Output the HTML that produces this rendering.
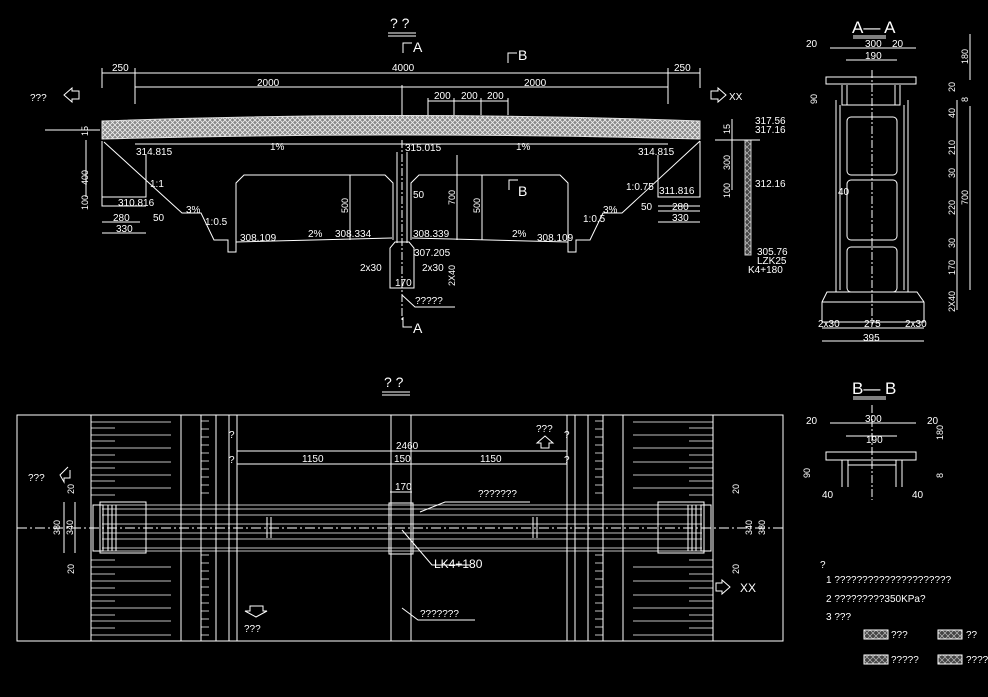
<!DOCTYPE html>
<html><head><meta charset="utf-8"><style>
html,body{margin:0;padding:0;background:#000;}
svg{display:block;}
text{font-family:"Liberation Sans",sans-serif;fill:#fff;}
</style></head><body>
<svg width="988" height="697" viewBox="0 0 988 697" xmlns="http://www.w3.org/2000/svg" font-size="10">
<defs>
<pattern id="h" width="5" height="5" patternUnits="userSpaceOnUse">
<rect width="5" height="5" fill="#888"/><path d="M0 0L5 5M5 0L0 5" stroke="#eee" stroke-width="0.8"/>
</pattern>
<pattern id="h2" width="6" height="6" patternUnits="userSpaceOnUse">
<rect width="6" height="6" fill="#444"/><path d="M0 0L6 6M6 0L0 6" stroke="#bbb" stroke-width="0.7"/>
</pattern>
</defs>
<g stroke="#fff" stroke-width="1" fill="none">
<text x="390" y="28" font-size="14" stroke="none">? ?</text>
<line x1="388" y1="33" x2="416" y2="33"/><line x1="388" y1="36" x2="416" y2="36"/>
<path d="M403 53V43H412"/><text x="413" y="52" font-size="14" stroke="none">A</text>
<path d="M508 63V53H517"/><text x="518" y="60" font-size="14" stroke="none">B</text>
<line x1="102" y1="73" x2="700" y2="73"/><line x1="135" y1="87" x2="668" y2="87"/>
<line x1="102" y1="68" x2="102" y2="88"/><line x1="135" y1="68" x2="135" y2="104"/>
<line x1="668" y1="68" x2="668" y2="104"/><line x1="700" y1="68" x2="700" y2="88"/>
<line x1="402" y1="85" x2="402" y2="115"/>
<text x="112" y="71" stroke="none">250</text><text x="392" y="71" stroke="none">4000</text><text x="674" y="71" stroke="none">250</text>
<text x="257" y="86" stroke="none">2000</text><text x="524" y="86" stroke="none">2000</text>
<line x1="428" y1="101" x2="508" y2="101"/>
<line x1="428" y1="98" x2="428" y2="115"/><line x1="454" y1="98" x2="454" y2="115"/><line x1="481" y1="98" x2="481" y2="115"/><line x1="508" y1="98" x2="508" y2="115"/>
<text x="434" y="99" stroke="none">200</text><text x="461" y="99" stroke="none">200</text><text x="487" y="99" stroke="none">200</text>
<text x="30" y="101" stroke="none">???</text><path d="M72 88L64 95L72 102V99H79V91H72Z"/>
<path d="M718 88L726 95L718 102V99H711V91H718Z"/><text x="729" y="100" stroke="none">XX</text>
<path d="M102 121Q402 110 700 121L700 139Q402 131 102 139Z" fill="url(#h)" stroke="#ddd"/>
<line x1="45" y1="130" x2="100" y2="130"/>
<line x1="135" y1="144" x2="668" y2="144"/>
<text x="136" y="155" stroke="none">314.815</text><text x="405" y="151" stroke="none">315.015</text><text x="638" y="155" stroke="none">314.815</text>
<text x="270" y="150" stroke="none">1%</text><text x="516" y="150" stroke="none">1%</text>
<path d="M102 141V197H146V155"/><path d="M102 170V206H146"/>
<text transform="translate(88,136) rotate(-90)" font-size="9" stroke="none">15</text>
<text transform="translate(88,185) rotate(-90)" font-size="9" stroke="none">400</text>
<text transform="translate(88,210) rotate(-90)" font-size="9" stroke="none">100</text>
<line x1="86" y1="140" x2="86" y2="197"/>
<text x="118" y="206" stroke="none">310.816</text>
<line x1="102" y1="222" x2="140" y2="222"/><line x1="102" y1="233" x2="146" y2="233"/>
<text x="113" y="221" stroke="none">280</text><text x="116" y="232" stroke="none">330</text><text x="153" y="221" stroke="none">50</text>
<path d="M104 142L182 213H201L214 240H228V252H236V240"/>
<text x="150" y="187" stroke="none">1:1</text><text x="186" y="213" stroke="none">3%</text><text x="205" y="225" stroke="none">1:0.5</text>
<path d="M700 141L622 213H603L590 240H576V252H568V240"/>
<path d="M658 155V197H700V141"/><path d="M658 206H700"/>
<text x="659" y="194" stroke="none">311.816</text>
<line x1="658" y1="211" x2="700" y2="211"/><line x1="658" y1="222" x2="700" y2="222"/>
<text x="672" y="210" stroke="none">280</text><text x="672" y="221" stroke="none">330</text><text x="641" y="210" stroke="none">50</text>
<text x="603" y="213" stroke="none">3%</text><text x="626" y="190" stroke="none">1:0.75</text><text x="583" y="222" stroke="none">1:0.5</text>
<rect x="745" y="140" width="6" height="115" fill="url(#h2)" stroke="#ccc"/>
<line x1="732" y1="119" x2="732" y2="190"/><line x1="715" y1="140" x2="760" y2="140"/>
<text transform="translate(730,134) rotate(-90)" font-size="9" stroke="none">15</text>
<text transform="translate(730,170) rotate(-90)" font-size="9" stroke="none">300</text>
<text transform="translate(730,198) rotate(-90)" font-size="9" stroke="none">100</text>
<text x="755" y="124" stroke="none">317.56</text><text x="755" y="133" stroke="none">317.16</text><text x="755" y="187" stroke="none">312.16</text>
<text x="757" y="255" stroke="none">305.76</text><text x="757" y="264" stroke="none">LZK25</text><text x="748" y="273" stroke="none">K4+180</text>
<path d="M236 240V183L244 175H385L393 183V240"/>
<path d="M411 240V183L419 175H560L568 183V240"/>
<path d="M236 242L392 238M412 238L568 242"/>
<text x="240" y="241" stroke="none">308.109</text><text x="308" y="237" stroke="none">2%</text><text x="335" y="237" stroke="none">308.334</text>
<text x="413" y="237" stroke="none">308.339</text><text x="512" y="237" stroke="none">2%</text><text x="537" y="241" stroke="none">308.109</text>
<line x1="350" y1="175" x2="350" y2="240"/><text transform="translate(348,213) rotate(-90)" font-size="9" stroke="none">500</text>
<line x1="482" y1="175" x2="482" y2="240"/><text transform="translate(480,213) rotate(-90)" font-size="9" stroke="none">500</text>
<line x1="457" y1="155" x2="457" y2="240"/><text transform="translate(455,205) rotate(-90)" font-size="9" stroke="none">700</text>
<path d="M509 190V180H518"/><text x="518" y="196" font-size="14" stroke="none">B</text>
<path d="M397 152V243M407 152V243"/>
<line x1="402" y1="140" x2="402" y2="320" stroke-dasharray="8 2 2 2"/>
<text x="413" y="198" stroke="none">50</text>
<path d="M390 255V248L395 242H409L414 248V255M390 255V288H414V255"/>
<text x="414" y="256" stroke="none">307.205</text>
<text x="360" y="271" stroke="none">2x30</text><text x="422" y="271" stroke="none">2x30</text>
<text x="395" y="286" stroke="none">170</text><text transform="translate(455,286) rotate(-90)" font-size="9" stroke="none">2X40</text>
<path d="M402 295L415 307H455"/><text x="415" y="304" stroke="none">?????</text>
<path d="M403 317V327H412"/><text x="413" y="333" font-size="14" stroke="none">A</text>
<text x="384" y="387" font-size="14" stroke="none">? ?</text>
<line x1="382" y1="392" x2="410" y2="392"/><line x1="382" y1="395" x2="410" y2="395"/>
<rect x="17" y="415" width="766" height="226"/>
<path d="M91 415V641M181 415V641M201 415V641M216 415V641M229 415V641M237 415V641"/>
<path d="M713 415V641M623 415V641M603 415V641M588 415V641M575 415V641M567 415V641"/>
<path d="M391 415V641M411 415V641"/>
<g stroke-width="0.8">
<path d="M91 422H171M91 428H115M91 435H171M91 441H115M91 448H171M91 455H115M91 462H171M91 468H115M91 475H171M91 481H115M91 488H171M91 495H115"/>
<path d="M91 560H115M91 567H171M91 574H115M91 581H171M91 588H115M91 595H171M91 601H115M91 608H171M91 615H115M91 621H171M91 628H115M91 635H171"/>
<path d="M713 422H633M713 428H689M713 435H633M713 441H689M713 448H633M713 455H689M713 462H633M713 468H689M713 475H633M713 481H689M713 488H633M713 495H689"/>
<path d="M713 560H689M713 567H633M713 574H689M713 581H633M713 588H689M713 595H633M713 601H689M713 608H633M713 615H689M713 621H633M713 628H689M713 635H633"/>
<path d="M201 421H209M201 429H209M201 437H209M201 445H209M201 453H209M201 461H209M201 469H209M201 477H209M201 485H209M201 493H209M201 555H209M201 563H209M201 571H209M201 579H209M201 587H209M201 595H209M201 603H209M201 611H209M201 619H209M201 627H209M201 635H209"/>
<path d="M603 421H595M603 429H595M603 437H595M603 445H595M603 453H595M603 461H595M603 469H595M603 477H595M603 485H595M603 493H595M603 555H595M603 563H595M603 571H595M603 579H595M603 587H595M603 595H595M603 603H595M603 611H595M603 619H595M603 627H595M603 635H595"/>
</g>
<path d="M102 505H702M102 509H702M102 515H702M102 524H702M102 533H702M102 539H702M102 548H702M102 551H702" stroke-width="0.8"/>
<line x1="17" y1="528" x2="783" y2="528" stroke-dasharray="10 3 2 3"/>
<rect x="100" y="502" width="46" height="51"/><rect x="93" y="505" width="10" height="46"/>
<path d="M108 505V551M112 505V551M116 505V551"/>
<rect x="658" y="502" width="46" height="51"/><rect x="701" y="505" width="10" height="46"/>
<path d="M688 505V551M692 505V551M696 505V551"/>
<rect x="389" y="503" width="24" height="51"/>
<path d="M267 517V538M271 517V538M533 517V538M537 517V538"/>
<line x1="237" y1="451" x2="567" y2="451"/><line x1="237" y1="464" x2="567" y2="464"/>
<text x="396" y="449" stroke="none">2460</text><text x="302" y="462" stroke="none">1150</text><text x="394" y="462" stroke="none">150</text><text x="480" y="462" stroke="none">1150</text>
<text x="395" y="490" stroke="none">170</text><line x1="390" y1="492" x2="412" y2="492"/>
<text x="229" y="438" stroke="none">?</text><text x="229" y="463" stroke="none">?</text>
<text x="564" y="438" stroke="none">?</text><text x="564" y="463" stroke="none">?</text>
<text x="536" y="432" stroke="none">???</text><path d="M545 436L537 443H541V448H549V443H553Z"/>
<text x="28" y="481" stroke="none">???</text><path d="M68 467L60 475L64 482V478H70V470"/>
<text transform="translate(74,494) rotate(-90)" font-size="9" stroke="none">20</text>
<text transform="translate(60,535) rotate(-90)" font-size="9" stroke="none">380</text>
<text transform="translate(73,535) rotate(-90)" font-size="9" stroke="none">340</text>
<text transform="translate(74,574) rotate(-90)" font-size="9" stroke="none">20</text>
<line x1="75" y1="502" x2="75" y2="553"/><line x1="64" y1="502" x2="64" y2="553"/>
<text transform="translate(739,494) rotate(-90)" font-size="9" stroke="none">20</text>
<text transform="translate(752,535) rotate(-90)" font-size="9" stroke="none">340</text>
<text transform="translate(765,535) rotate(-90)" font-size="9" stroke="none">380</text>
<text transform="translate(739,574) rotate(-90)" font-size="9" stroke="none">20</text>
<path d="M722 580L730 587L722 594V591H716V583H722Z"/><text x="740" y="592" font-size="12" stroke="none">XX</text>
<path d="M250 606H263V611H267L256 617L245 611H250Z"/><text x="244" y="632" stroke="none">???</text>
<path d="M420 512L445 502H530"/><text x="478" y="497" stroke="none">???????</text>
<path d="M402 530L432 565H470"/><text x="434" y="568" font-size="12" stroke="none">LK4+180</text>
<path d="M402 608L418 620H475"/><text x="420" y="617" stroke="none">???????</text>
<text x="852" y="33" font-size="17" stroke="none">A— A</text>
<line x1="853" y1="36" x2="886" y2="36"/><line x1="853" y1="38" x2="886" y2="38"/>
<path d="M826 77H916V84H826Z"/><path d="M842 85V105H900V85"/><path d="M847 85V105M895 85V105"/>
<path d="M836 100V292H908V100"/><path d="M840 105V290M904 105V290"/>
<rect x="847" y="117" width="50" height="58" rx="4"/><rect x="847" y="180" width="50" height="60" rx="4"/><rect x="847" y="247" width="50" height="45" rx="4"/>
<path d="M827 292L822 302V322H924V302L917 292Z"/><line x1="822" y1="302" x2="924" y2="302"/>
<line x1="872" y1="70" x2="872" y2="325" stroke-dasharray="8 2 2 2"/>
<line x1="830" y1="48" x2="916" y2="48"/><line x1="846" y1="60" x2="897" y2="60"/>
<text x="806" y="47" stroke="none">20</text><text x="865" y="47" stroke="none">300</text><text x="892" y="47" stroke="none">20</text><text x="865" y="59" stroke="none">190</text>
<text transform="translate(817,104) rotate(-90)" font-size="9" stroke="none">90</text><text x="838" y="195" stroke="none">40</text>
<line x1="822" y1="328" x2="924" y2="328"/><line x1="822" y1="341" x2="924" y2="341"/>
<text x="818" y="327" stroke="none">2x30</text><text x="864" y="327" stroke="none">275</text><text x="905" y="327" stroke="none">2x30</text><text x="863" y="341" stroke="none">395</text>
<line x1="970" y1="34" x2="970" y2="80"/><line x1="970" y1="106" x2="970" y2="290"/><line x1="957" y1="100" x2="957" y2="310"/>
<g font-size="9">
<text transform="translate(968,64) rotate(-90)" stroke="none">180</text>
<text transform="translate(955,92) rotate(-90)" stroke="none">20</text>
<text transform="translate(968,102) rotate(-90)" stroke="none">8</text>
<text transform="translate(955,118) rotate(-90)" stroke="none">40</text>
<text transform="translate(955,155) rotate(-90)" stroke="none">210</text>
<text transform="translate(955,178) rotate(-90)" stroke="none">30</text>
<text transform="translate(955,215) rotate(-90)" stroke="none">220</text>
<text transform="translate(968,205) rotate(-90)" stroke="none">700</text>
<text transform="translate(955,248) rotate(-90)" stroke="none">30</text>
<text transform="translate(955,275) rotate(-90)" stroke="none">170</text>
<text transform="translate(955,312) rotate(-90)" stroke="none">2X40</text></g>
<text x="852" y="394" font-size="17" stroke="none">B— B</text>
<line x1="853" y1="397" x2="886" y2="397"/><line x1="853" y1="399" x2="886" y2="399"/>
<path d="M826 452H916V460H826Z"/><path d="M842 460V487M848 460V487M896 460V487M902 460V487M848 465H896"/>
<line x1="872" y1="405" x2="872" y2="500" stroke-dasharray="8 2 2 2"/>
<line x1="830" y1="423" x2="916" y2="423"/><line x1="846" y1="436" x2="897" y2="436"/>
<text x="806" y="424" stroke="none">20</text><text x="865" y="422" stroke="none">300</text><text x="927" y="424" stroke="none">20</text><text x="866" y="443" stroke="none">190</text>
<text transform="translate(810,478) rotate(-90)" font-size="9" stroke="none">90</text><text x="822" y="498" stroke="none">40</text><text x="912" y="498" stroke="none">40</text>
<text transform="translate(943,440) rotate(-90)" font-size="9" stroke="none">180</text><text transform="translate(943,478) rotate(-90)" font-size="9" stroke="none">8</text>
<text x="820" y="568" stroke="none">?</text>
<text x="826" y="583" stroke="none">1 ?????????????????????</text>
<text x="826" y="602" stroke="none">2 ?????????350KPa?</text>
<text x="826" y="620" stroke="none">3 ???</text>
<rect x="864" y="630" width="24" height="9" fill="url(#h2)"/><text x="891" y="638" stroke="none">???</text>
<rect x="938" y="630" width="24" height="9" fill="url(#h2)"/><text x="966" y="638" stroke="none">??</text>
<rect x="864" y="655" width="24" height="9" fill="url(#h2)"/><text x="891" y="663" stroke="none">?????</text>
<rect x="938" y="655" width="24" height="9" fill="url(#h2)"/><text x="966" y="663" stroke="none">????</text>
</g>
</svg>
</body></html>
